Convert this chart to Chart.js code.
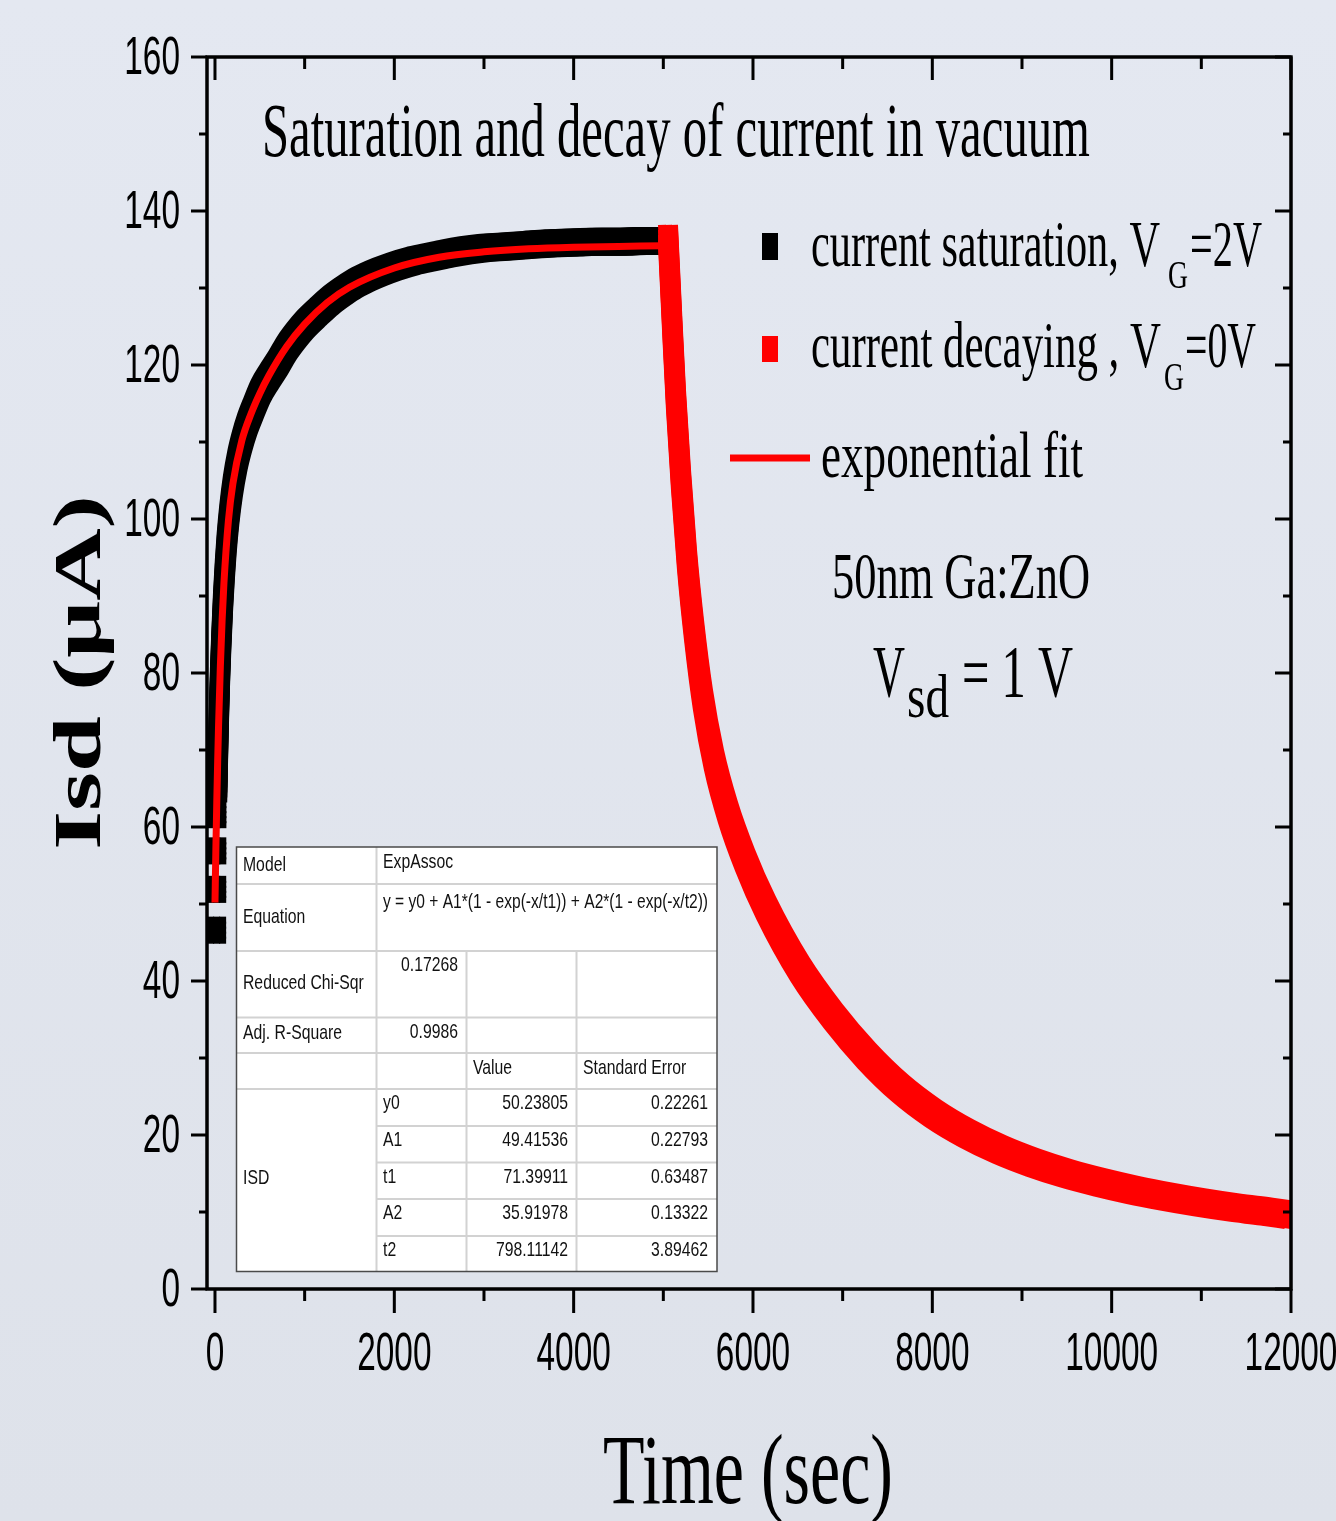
<!DOCTYPE html>
<html>
<head>
<meta charset="utf-8">
<script src="https://cdn.jsdelivr.net/npm/chart.js@4/dist/chart.umd.min.js"></script>
<style>
  html, body { margin: 0; padding: 0; background: #e2e6ef; }
  canvas { display: block; }
</style>
</head>
<body>
<canvas id="chart" width="1336" height="1521"></canvas>
<script>
// data
const satSquareTime = [18, 19, 20, 21];
const satSquareIsd = [46.6, 51.9, 56.9, 61.6];

const satTime = [25, 40, 55, 70, 90, 110, 130, 160, 200, 250, 300, 360, 430, 509, 600, 700, 800, 900, 1000, 1150,
  1282, 1420, 1550, 1700, 1840, 2000, 2200, 2400, 2600, 2800, 3000, 3250, 3500, 3750, 4000, 4250, 4500, 4750, 5000, 5080];
const satIsd = [64.5, 72.8, 79.2, 84.0, 89.3, 93.4, 96.8, 100.6, 104.3, 107.6, 110.0, 112.3, 114.4, 116.6, 118.4, 120.2, 122.2, 123.8, 125.2, 126.9,
  128.3, 129.5, 130.5, 131.4, 132.1, 132.8, 133.5, 134.0, 134.5, 134.9, 135.2, 135.4, 135.6, 135.8, 135.9, 136.0, 136.0, 136.1, 136.1, 136.1];

const decTime = [5052, 5097, 5141, 5197, 5264, 5342, 5442, 5565, 5721, 5911, 6145, 6524, 6896, 7268, 7639, 8011, 8383,
  8754, 9126, 9498, 9869, 10241, 10613, 10985, 11356, 11728, 12000];
const decIsd = [136.9, 125.8, 115.5, 105.1, 94.7, 85.6, 76.5, 68.7, 61.9, 55.7, 49.5, 41.5, 35.4, 30.3, 26.1, 22.8, 20.2,
  18.1, 16.4, 15.0, 13.85, 12.85, 12.0, 11.25, 10.6, 10.05, 9.6];

const fitTime = [0, 10, 20, 30, 40, 60, 80, 100, 150, 200, 300, 400, 500, 600, 800, 1000, 1250, 1500, 2000, 2500, 3000, 3500, 4000, 4500, 5000];
const fitIsd = [50.2, 57.1, 63.2, 68.5, 73.2, 80.9, 87.0, 91.7, 99.8, 104.6, 110.2, 113.6, 116.3, 118.6, 122.4, 125.3, 128.1, 130.1, 132.6, 134.0, 134.7, 135.1, 135.3, 135.4, 135.5];

const xTicks = [0, 2000, 4000, 6000, 8000, 10000, 12000];
const xTickLabels = ['0', '2000', '4000', '6000', '8000', '10000', '12000'];
const yTicks = [0, 20, 40, 60, 80, 100, 120, 140, 160];
const yTickLabels = ['0', '20', '40', '60', '80', '100', '120', '140', '160'];

// fit result table
const tableTop = [['Model', 'ExpAssoc'], ['Equation', 'y = y0 + A1*(1 - exp(-x/t1)) + A2*(1 - exp(-x/t2))']];
const tableStats = [['Reduced Chi-Sqr', '0.17268'], ['Adj. R-Square', '0.9986']];
const paramNames = ['y0', 'A1', 't1', 'A2', 't2'];
const paramValues = ['50.23805', '49.41536', '71.39911', '35.91978', '798.11142'];
const paramErrors = ['0.22261', '0.22793', '0.63487', '0.13322', '3.89462'];

const pts = (xs, ys) => xs.map((x, i) => ({ x: x, y: ys[i] }));

const SERIF = '"Liberation Serif", "DejaVu Serif", serif';
const SANS = '"Liberation Sans", Arial, sans-serif';

// offsets that turn a thin stroke into a band of 20x28 rectangles
const markerOffsets = [];
[-6, 0, 6].forEach(dx => [-10, -5, 0, 5, 10].forEach(dy => {
  if (dx || dy) markerOffsets.push([dx, dy]);
}));

// text squeezed horizontally to a given width
function fitText(ctx, s, x, y, font, w) {
  ctx.save();
  ctx.font = font;
  const m = ctx.measureText(s).width;
  ctx.translate(x, y);
  ctx.scale(w / m, 1);
  ctx.textAlign = 'left';
  ctx.fillText(s, 0, 0);
  ctx.restore();
}

function sqText(ctx, s, x, y, font, sx, align, base) {
  ctx.save();
  ctx.font = font;
  ctx.translate(x, y);
  ctx.scale(sx, 1);
  ctx.textAlign = align;
  ctx.textBaseline = base || 'alphabetic';
  ctx.fillText(s, 0, 0);
  ctx.restore();
}

// background
const bgPlugin = {
  id: 'bg',
  beforeDraw(chart) {
    const ctx = chart.ctx;
    const g = ctx.createLinearGradient(0, 0, 0, chart.height);
    g.addColorStop(0, '#e4e8f1');
    g.addColorStop(1, '#dee2ea');
    ctx.save();
    ctx.fillStyle = g;
    ctx.fillRect(0, 0, chart.width, chart.height);
    ctx.restore();
  }
};

// marker bands: the dataset drawn again at small offsets
const bandPlugin = {
  id: 'band',
  beforeDatasetDraw(chart, args) {
    const ds = chart.data.datasets[args.index];
    if (!ds.markerBand) return;
    const ctx = chart.ctx, a = chart.chartArea;
    ctx.save();
    ctx.beginPath();
    ctx.rect(a.left, a.top, a.right - a.left, a.bottom - a.top);
    ctx.clip();
    markerOffsets.forEach(o => {
      ctx.save();
      ctx.translate(o[0], o[1]);
      args.meta.controller.draw();
      ctx.restore();
    });
    ctx.restore();
  }
};

// axes, labels, legend, table
const decorPlugin = {
  id: 'decor',
  afterDraw(chart) {
    const ctx = chart.ctx;
    const xs = chart.scales.x, ys = chart.scales.y;
    const a = chart.chartArea;
    ctx.save();
    ctx.strokeStyle = '#000';
    ctx.fillStyle = '#000';
    ctx.lineCap = 'butt';

    // ticks
    ctx.lineWidth = 3;
    ctx.beginPath();
    for (let v = 0; v <= 12000; v += 1000) {
      const px = xs.getPixelForValue(v);
      const major = v % 2000 === 0;
      ctx.moveTo(px, a.bottom); ctx.lineTo(px, a.bottom + (major ? 24 : 12));
      ctx.moveTo(px, a.top); ctx.lineTo(px, a.top + (major ? 23 : 12));
    }
    for (let v = 0; v <= 160; v += 10) {
      const py = ys.getPixelForValue(v);
      const major = v % 20 === 0;
      ctx.moveTo(a.left - (major ? 16 : 8), py); ctx.lineTo(a.left, py);
      ctx.moveTo(a.right - (major ? 16 : 8), py); ctx.lineTo(a.right, py);
    }
    ctx.stroke();

    // frame
    ctx.lineWidth = 3.5;
    ctx.beginPath();
    ctx.moveTo(a.left, a.top - 1.5); ctx.lineTo(a.left, a.bottom + 1.5);
    ctx.moveTo(a.right, a.top - 1.5); ctx.lineTo(a.right, a.bottom + 1.5);
    ctx.moveTo(a.left - 1.5, a.top); ctx.lineTo(a.right + 1.5, a.top);
    ctx.moveTo(a.left - 1.5, a.bottom); ctx.lineTo(a.right + 1.5, a.bottom);
    ctx.stroke();

    // tick labels
    const tickFont = '53px ' + SANS;
    xTicks.forEach((v, i) => sqText(ctx, xTickLabels[i], xs.getPixelForValue(v), 1370, tickFont, 0.63, 'center'));
    yTicks.forEach((v, i) => sqText(ctx, yTickLabels[i], 180, ys.getPixelForValue(v) + 17, tickFont, 0.63, 'right'));

    // axis titles
    fitText(ctx, 'Time (sec)', 603, 1503, '100px ' + SERIF, 290);
    ctx.save();
    ctx.font = 'bold 104px ' + SERIF;
    const lw = ctx.measureText('Isd (\u03bcA)').width;
    ctx.translate(100, 850);
    ctx.rotate(-Math.PI / 2);
    ctx.scale(355 / lw, 0.66);
    ctx.fillText('Isd (\u03bcA)', 0, 0);
    ctx.restore();

    // title and notes
    fitText(ctx, 'Saturation and decay of current in vacuum', 262, 156, '76px ' + SERIF, 828);
    fitText(ctx, '50nm Ga:ZnO', 832, 598, '66px ' + SERIF, 258);
    fitText(ctx, 'V', 873, 697, '74px ' + SERIF, 32);
    fitText(ctx, 'sd', 907, 717, '62px ' + SERIF, 42);
    fitText(ctx, '= 1 V', 962, 697, '74px ' + SERIF, 111);

    // legend
    ctx.fillStyle = '#000';
    ctx.fillRect(762, 233, 16, 27);
    fitText(ctx, 'current saturation, V', 811, 266, '66px ' + SERIF, 349);
    fitText(ctx, 'G', 1168, 288, '40px ' + SERIF, 20);
    fitText(ctx, '=2V', 1190, 266, '66px ' + SERIF, 72);
    ctx.fillStyle = '#ff0000';
    ctx.fillRect(762, 336, 16, 26);
    ctx.fillStyle = '#000';
    fitText(ctx, 'current decaying , V', 811, 367, '66px ' + SERIF, 350);
    fitText(ctx, 'G', 1164, 390, '40px ' + SERIF, 20);
    fitText(ctx, '=0V', 1185, 367, '66px ' + SERIF, 71);
    ctx.strokeStyle = '#ff0000';
    ctx.lineWidth = 7;
    ctx.beginPath();
    ctx.moveTo(730, 458); ctx.lineTo(810, 458);
    ctx.stroke();
    fitText(ctx, 'exponential fit', 821, 477, '66px ' + SERIF, 262);

    // table
    const cx = [236.5, 376.5, 466.5, 576.5, 717];
    const ry = [847, 884, 951, 1017.5, 1053, 1089, 1126, 1162.5, 1199, 1236, 1271.5];
    ctx.fillStyle = '#ffffff';
    ctx.fillRect(cx[0], ry[0], cx[4] - cx[0], ry[10] - ry[0]);
    ctx.strokeStyle = '#d2d2d2';
    ctx.lineWidth = 2;
    ctx.beginPath();
    for (let i = 1; i <= 5; i++) { ctx.moveTo(cx[0], ry[i]); ctx.lineTo(cx[4], ry[i]); }
    for (let i = 6; i <= 9; i++) { ctx.moveTo(cx[1], ry[i]); ctx.lineTo(cx[4], ry[i]); }
    ctx.moveTo(cx[1], ry[0]); ctx.lineTo(cx[1], ry[10]);
    ctx.moveTo(cx[2], ry[2]); ctx.lineTo(cx[2], ry[10]);
    ctx.moveTo(cx[3], ry[2]); ctx.lineTo(cx[3], ry[10]);
    ctx.stroke();
    ctx.strokeStyle = '#4a4a4a';
    ctx.lineWidth = 1.5;
    ctx.strokeRect(cx[0], ry[0], cx[4] - cx[0], ry[10] - ry[0]);

    ctx.fillStyle = '#111';
    const tf = '21px ' + SANS, sx = 0.75;
    sqText(ctx, tableTop[0][0], 243, 865, tf, sx, 'left', 'middle');
    sqText(ctx, tableTop[0][1], 383, 862, tf, sx, 'left', 'middle');
    sqText(ctx, tableTop[1][0], 243, 917, tf, sx, 'left', 'middle');
    ctx.save(); ctx.textBaseline = 'middle';
    fitText(ctx, tableTop[1][1], 383, 902, tf, 325);
    ctx.restore();
    sqText(ctx, tableStats[0][0], 243, 983, tf, sx, 'left', 'middle');
    sqText(ctx, tableStats[0][1], 458, 965, tf, sx, 'right', 'middle');
    sqText(ctx, tableStats[1][0], 243, 1033, tf, sx, 'left', 'middle');
    sqText(ctx, tableStats[1][1], 458, 1032, tf, sx, 'right', 'middle');
    sqText(ctx, 'Value', 473, 1068, tf, sx, 'left', 'middle');
    sqText(ctx, 'Standard Error', 583, 1068, tf, sx, 'left', 'middle');
    sqText(ctx, 'ISD', 243, 1178, tf, sx, 'left', 'middle');
    paramNames.forEach((p, i) => {
      const yc = (ry[5 + i] + ry[6 + i]) / 2 - 4;
      sqText(ctx, p, 383, yc, tf, sx, 'left', 'middle');
      sqText(ctx, paramValues[i], 568, yc, tf, sx, 'right', 'middle');
      sqText(ctx, paramErrors[i], 708, yc, tf, sx, 'right', 'middle');
    });
    ctx.restore();
  }
};

new Chart(document.getElementById('chart'), {
  type: 'scatter',
  data: {
    datasets: [
      {
        label: 'current saturation, VG=2V',
        data: pts(satSquareTime, satSquareIsd),
        showLine: false,
        pointStyle: 'rect',
        pointRadius: 5,
        backgroundColor: '#000',
        borderWidth: 0,
        markerBand: true,
        order: 4
      },
      {
        label: 'current saturation band',
        data: pts(satTime, satIsd),
        showLine: true,
        pointRadius: 0,
        borderColor: '#000',
        borderWidth: 8,
        borderJoinStyle: 'round',
        cubicInterpolationMode: 'monotone',
        markerBand: true,
        clip: 0,
        order: 3
      },
      {
        label: 'current decaying , VG=0V',
        data: pts(decTime, decIsd),
        showLine: true,
        pointRadius: 0,
        borderColor: '#ff0000',
        borderWidth: 8,
        borderJoinStyle: 'round',
        cubicInterpolationMode: 'monotone',
        markerBand: true,
        clip: 0,
        order: 2
      },
      {
        label: 'exponential fit',
        data: pts(fitTime, fitIsd),
        showLine: true,
        pointRadius: 0,
        borderColor: '#ff0000',
        borderWidth: 7,
        cubicInterpolationMode: 'monotone',
        clip: 0,
        order: 1
      }
    ]
  },
  options: {
    responsive: false,
    devicePixelRatio: 1,
    animation: false,
    layout: { padding: { left: 207, right: 45, top: 57, bottom: 232 } },
    scales: {
      x: { type: 'linear', min: -89, max: 12000, display: false },
      y: { type: 'linear', min: 0, max: 160, display: false }
    },
    plugins: { legend: { display: false }, tooltip: { enabled: false } }
  },
  plugins: [bgPlugin, bandPlugin, decorPlugin]
});
</script>
</body>
</html>
